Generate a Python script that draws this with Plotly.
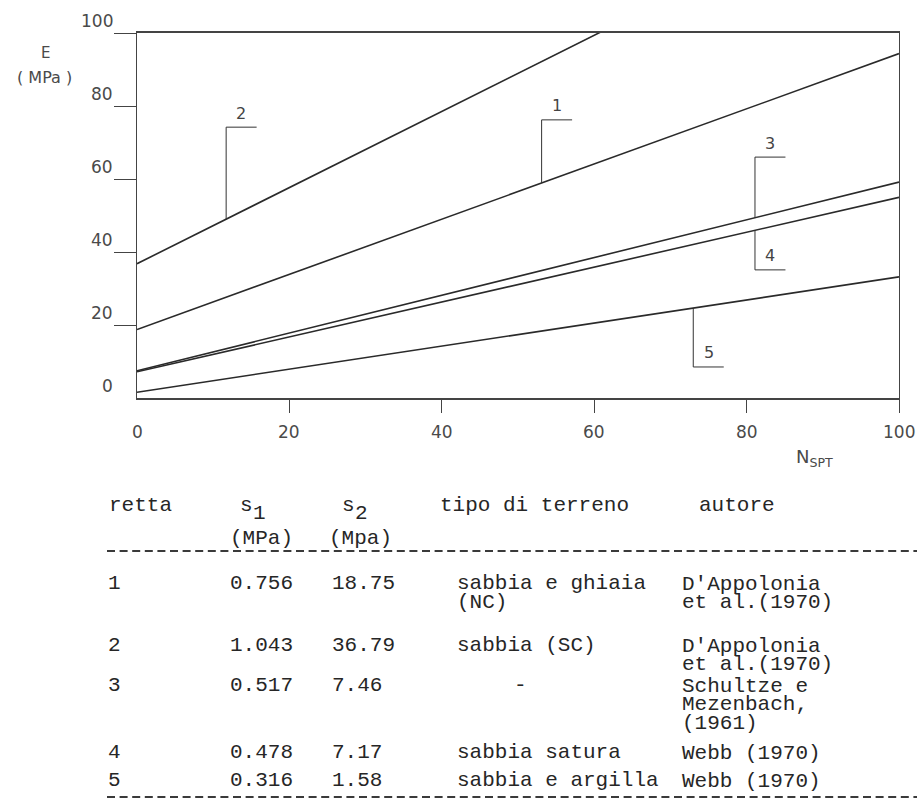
import plotly.graph_objects as go

# Linear correlations E = s1 * N_SPT + s2
retta = ["1", "2", "3", "4", "5"]
s1 = [0.756, 1.043, 0.517, 0.478, 0.316]
s2 = [18.75, 36.79, 7.46, 7.17, 1.58]
terreno = ["sabbia e ghiaia\n(NC)", "sabbia (SC)", "-", "sabbia satura", "sabbia e argilla"]
autore = ["D'Appolonia\net al.(1970)", "D'Appolonia\net al.(1970)",
          "Schultze e\nMezenbach,\n(1961)", "Webb (1970)", "Webb (1970)"]

n_range = [0, 100]
x_ticks = [0, 20, 40, 60, 80, 100]
y_ticks = [0, 20, 40, 60, 80, 100]

# Leader brackets for the line numbers: N of the vertical stroke, E where the bracket ends
leader_n = [53.1, 11.7, 81.1, 81.1, 73.0]
leader_e = [76.2, 74.2, 66.0, 35.1, 8.5]

W, H = 917, 801
PX0, PX1 = 137, 899
PY0, PY1 = 33, 398

INK = "#333333"
PLOT_FONT = dict(family="DejaVu Sans", size=17, color="#4a4a4a")
MONO = dict(family="Liberation Mono", size=21, color="#262626")

fig = go.Figure()

for i in range(len(retta)):
    ys = [s1[i] * n + s2[i] for n in n_range]
    fig.add_trace(go.Scatter(x=n_range, y=ys, mode="lines",
                             line=dict(color="#2a2a2a", width=1.6),
                             hoverinfo="skip", showlegend=False))

# brackets with the line numbers
for i in range(len(retta)):
    n = leader_n[i]
    e_line = s1[i] * n + s2[i]
    e_end = leader_e[i]
    fig.add_shape(type="line", xref="x", yref="y", x0=n, x1=n, y0=e_line, y1=e_end,
                  line=dict(color=INK, width=1))
    fig.add_shape(type="line", xref="x", yref="y", x0=n, x1=n + 4, y0=e_end, y1=e_end,
                  line=dict(color=INK, width=1))
    fig.add_annotation(x=n + 2, y=e_end, xref="x", yref="y", yshift=14, text=retta[i],
                       xanchor="center", yanchor="middle", showarrow=False,
                       font=dict(family="DejaVu Sans", size=16, color="#444"))

# axis numbers
for v in x_ticks:
    fig.add_annotation(x=v, y=0, xref="x", yref="y", yshift=-34, text=str(v),
                       xanchor="center", yanchor="middle", showarrow=False, font=PLOT_FONT)
for v in y_ticks:
    fig.add_annotation(x=0, y=v, xref="x", yref="y", xanchor="right", yanchor="middle",
                       xshift=-22, yshift=12, text=str(v), showarrow=False, font=PLOT_FONT)

# axis titles
fig.add_annotation(x=45 / W, y=1 - 53 / H, xref="paper", yref="paper", text="E",
                   xanchor="center", yanchor="middle", showarrow=False,
                   font=dict(family="DejaVu Sans", size=15, color="#4a4a4a"))
fig.add_annotation(x=44 / W, y=1 - 77 / H, xref="paper", yref="paper", text="( MPa )",
                   xanchor="center", yanchor="middle", showarrow=False,
                   font=dict(family="DejaVu Sans", size=16, color="#4a4a4a"))
fig.add_annotation(x=814 / W, y=1 - 458 / H, xref="paper", yref="paper",
                   text="N<sub>SPT</sub>", xanchor="center", yanchor="middle",
                   showarrow=False, font=dict(family="DejaVu Sans", size=18, color="#4a4a4a"))


def put(x, y, s):
    fig.add_annotation(x=x / W, y=1 - y / H, xref="paper", yref="paper", text=s,
                       showarrow=False, xanchor="left", yanchor="middle", font=MONO)


def put_lines(x, y, s, step=19):
    for k, part in enumerate(s.split("\n")):
        put(x, y + k * step, part)


def rule(y):
    fig.add_shape(type="line", xref="paper", yref="paper", x0=107 / W, x1=1.0,
                  y0=1 - y / H, y1=1 - y / H,
                  line=dict(color="#3a3a3a", width=2, dash="8px,4.6px"))


# table columns (left edges, px)
C_RETTA, C_S1, C_S2, C_TIPO, C_AUT = 106, 228, 330, 455, 680

# table header
put(107, 505, "retta")
put(238, 505, "s")
put(251, 513, "1")
put(340, 505, "s")
put(353, 513, "2")
put(438, 505, "tipo di terreno")
put(697, 505, "autore")
put(228, 538, "(MPa)")
put(327, 538, "(Mpa)")
rule(551)

# table body
row_y = [583, 645, 685, 752, 780]
for i in range(len(retta)):
    y = row_y[i]
    put(C_RETTA, y, retta[i])
    put(C_S1, y, f"{s1[i]:.3f}")
    put(C_S2, y, f"{s2[i]:.2f}")
    if terreno[i] == "-":
        put(512, y, terreno[i])
    else:
        put_lines(C_TIPO, y, terreno[i], step=19)
    put_lines(C_AUT, y + 1, autore[i], step=18.5)
rule(797)

axis_common = dict(showgrid=False, zeroline=False, showline=True, mirror=True,
                   linecolor="#444", ticks="outside", tickcolor="#444", tickwidth=1,
                   showticklabels=False, fixedrange=True)

fig.update_layout(
    width=W, height=H, margin=dict(l=0, r=0, t=0, b=0),
    template="none", paper_bgcolor="white", plot_bgcolor="white", showlegend=False,
    xaxis=dict(domain=[PX0 / W, PX1 / W], range=n_range, tickvals=x_ticks[1:],
               ticklen=13, linewidth=2, **axis_common),
    yaxis=dict(domain=[1 - PY1 / H, 1 - PY0 / H], range=[y_ticks[0], y_ticks[-1]],
               tickvals=y_ticks[1:], ticklen=22, linewidth=1.4, **axis_common),
)

fig.write_html("out.html")
